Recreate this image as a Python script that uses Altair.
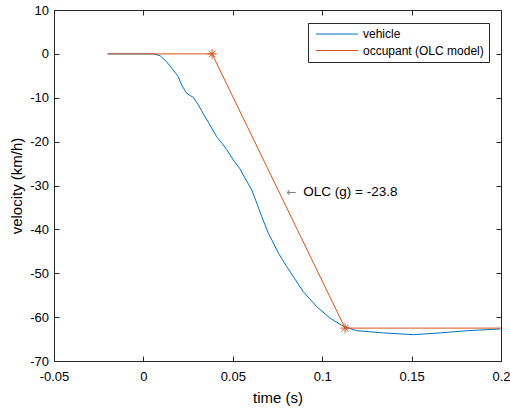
import altair as alt
import pandas as pd

# ---- data ----
veh_t = [-0.02, -0.01, 0.0, 0.004, 0.0055, 0.0093, 0.013, 0.0167, 0.0195, 0.0214,
         0.0242, 0.0262, 0.0279, 0.0307, 0.0344, 0.0372, 0.041, 0.0440, 0.0466, 0.0503,
         0.054, 0.0568, 0.0606, 0.0634, 0.0662, 0.0699, 0.0727, 0.0755, 0.0802, 0.0839,
         0.0894, 0.0969, 0.1043, 0.1118, 0.1193, 0.1342, 0.151, 0.1659, 0.1808, 0.1995]
veh_v = [0.0, 0.0, 0.0, 0.0, 0.0, -0.4, -1.8, -3.7, -5.2, -7.1,
         -9.0, -9.5, -9.9, -11.6, -14.3, -16.2, -18.9, -20.4, -21.8, -24.2,
         -26.2, -28.3, -31.0, -34.0, -37.1, -40.9, -43.1, -45.4, -48.5, -50.8,
         -54.2, -57.6, -60.2, -62.1, -63.1, -63.6, -64.0, -63.6, -63.1, -62.7]
occ_t = [-0.02, 0.0384, 0.1128, 0.2]
occ_v = [0.0, 0.0, -62.5, -62.5]
star_t = [0.0384, 0.1128]
star_v = [0.0, -62.5]
series_names = ["vehicle", "occupant (OLC model)"]
series_colors = ["#0072BD", "#D95319"]
x_ticks = [-0.05, 0, 0.05, 0.1, 0.15, 0.2]
y_ticks = [10, 0, -10, -20, -30, -40, -50, -60, -70]
note_arrow = "\u2190"
note_text = "OLC (g) = -23.8"
note_t_arrow, note_t_text, note_v = 0.0801, 0.0894, -31.5

veh = pd.DataFrame({"t": veh_t, "v": veh_v, "series": series_names[0], "o": range(len(veh_t))})
occ = pd.DataFrame({"t": occ_t, "v": occ_v, "series": series_names[1], "o": range(len(occ_t))})
stars = pd.DataFrame({"t": star_t, "v": star_v})
notes = pd.DataFrame({"t": [note_t_arrow, note_t_text], "v": [note_v, note_v],
                      "txt": [note_arrow, note_text], "kind": ["arrow", "text"]})

FONT = "Liberation Sans"
AX = "#262626"
W, H = 447, 351

xs = alt.Scale(domain=[-0.05, 0.2], nice=False, zero=False)
ys = alt.Scale(domain=[-70, 10], nice=False, zero=False)
cs = alt.Scale(domain=series_names, range=series_colors)

x_axis = alt.Axis(values=x_ticks, labelExpr="'' + datum.value", title="time (s)",
                  grid=False, domainColor=AX, tickColor=AX, tickSize={"expr": "-5"},
                  labelPadding=14, labelFont=FONT, labelFontSize=13, labelColor="#000000",
                  titleFont=FONT, titleFontSize=15, titleFontWeight="normal",
                  titleColor="#000000", titlePadding=7, labelFlush=False)
y_axis = alt.Axis(values=y_ticks, labelExpr="'' + datum.value", title="velocity (km/h)",
                  grid=False, domainColor=AX, tickColor=AX, tickSize={"expr": "-5"},
                  labelPadding=10.5, labelFont=FONT, labelFontSize=13, labelColor="#000000",
                  titleFont=FONT, titleFontSize=15, titleFontWeight="normal",
                  titleColor="#000000", titlePadding=5, labelFlush=False)
x_axis_top = alt.Axis(values=x_ticks, orient="top", labels=False, title=None, grid=False,
                      domainColor=AX, tickColor=AX, tickSize={"expr": "-5"})
y_axis_right = alt.Axis(values=y_ticks, orient="right", labels=False, title=None, grid=False,
                        domainColor=AX, tickColor=AX, tickSize={"expr": "-5"})

legend = alt.Legend(title=None, orient="none", legendX=254, legendY=13,
                    strokeColor=AX, fillColor="white", padding=5, rowPadding=4.5,
                    symbolType="M-1,0H13", symbolSize=36, symbolStrokeWidth=1,
                    labelFont=FONT, labelFontSize=12, labelColor="#000000",
                    labelOffset=38, cornerRadius=0)

veh_line = alt.Chart(veh).mark_line(strokeWidth=1, clip=True).encode(
    x=alt.X("t:Q", scale=xs, axis=x_axis),
    y=alt.Y("v:Q", scale=ys, axis=y_axis),
    color=alt.Color("series:N", scale=cs, legend=legend),
    order="o:Q",
)
occ_line = alt.Chart(occ).mark_line(strokeWidth=1, clip=True).encode(
    x=alt.X("t:Q", scale=xs),
    y=alt.Y("v:Q", scale=ys),
    color=alt.Color("series:N", scale=cs, legend=legend),
    order="o:Q",
)
star_path = "M0,-1L0,1M-1,0L1,0M-0.7,-0.7L0.7,0.7M-0.7,0.7L0.7,-0.7"
star_mark = alt.Chart(stars).mark_point(shape=star_path, size=90, filled=False,
                                        strokeWidth=1, color=series_colors[1], opacity=1).encode(
    x=alt.X("t:Q", scale=xs),
    y=alt.Y("v:Q", scale=ys),
)
arrow_txt = alt.Chart(notes[notes.kind == "arrow"]).mark_text(
    align="left", baseline="middle", font="DejaVu Sans", fontSize=12, color="#808080").encode(
    x=alt.X("t:Q", scale=xs), y=alt.Y("v:Q", scale=ys), text="txt:N")
note_mark = alt.Chart(notes[notes.kind == "text"]).mark_text(
    align="left", baseline="middle", font=FONT, fontSize=13.5, color="#000000").encode(
    x=alt.X("t:Q", scale=xs), y=alt.Y("v:Q", scale=ys), text="txt:N")

main = alt.layer(veh_line, occ_line, star_mark, arrow_txt, note_mark)

frame = alt.Chart(stars).mark_point(opacity=0).encode(
    x=alt.X("t:Q", scale=xs, axis=x_axis_top),
    y=alt.Y("v:Q", scale=ys, axis=y_axis_right),
)

chart = alt.layer(main, frame).resolve_axis(x="independent", y="independent").properties(
    width=W, height=H,
    autosize=alt.AutoSizeParams(type="none"),
    padding={"left": 54, "top": 10, "right": 9, "bottom": 49},
    background="white",
).configure_view(stroke=None)

chart.save("out.html", embed_options={"renderer": "svg", "actions": False})
